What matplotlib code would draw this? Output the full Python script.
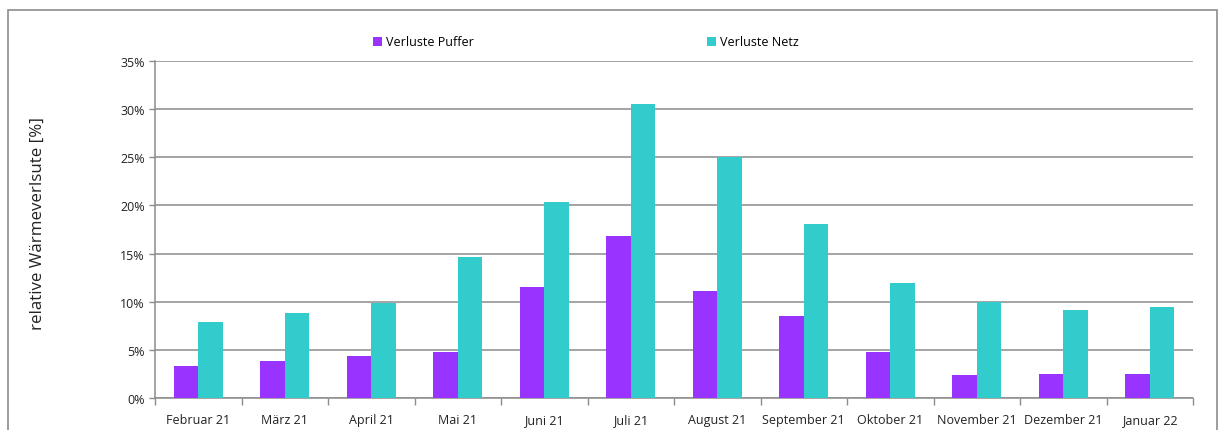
import matplotlib.pyplot as plt
from matplotlib.patches import Rectangle
from matplotlib.ticker import FuncFormatter, FixedLocator
import numpy as np

plt.rcParams['font.family'] = ['Open Sans', 'DejaVu Sans']

# Daten
monate = ['Februar 21', 'März 21', 'April 21', 'Mai 21', 'Juni 21', 'Juli 21',
          'August 21', 'September 21', 'Oktober 21', 'November 21', 'Dezember 21', 'Januar 22']
verluste_puffer = [3.3, 3.8, 4.4, 4.8, 11.5, 16.85, 11.1, 8.55, 4.75, 2.4, 2.45, 2.45]
verluste_netz = [7.9, 8.8, 9.9, 14.6, 20.4, 30.5, 25.0, 18.1, 11.95, 10.0, 9.1, 9.45]

fig = plt.figure(figsize=(12.19, 4.31), dpi=100)
ax = fig.add_axes([0.1272, 0.0742, 0.8515, 0.7819])

# Rahmen um das Diagramm
fig.patches.append(Rectangle((8 / 1219, -0.05), 1209 / 1219, 1 - 11 / 431 + 0.05,
                             transform=fig.transFigure, fill=False,
                             edgecolor='#8c8c8c', linewidth=1.2, zorder=0))

x = np.arange(len(monate))
b = 0.285
ax.bar(x - b / 2, verluste_puffer, b, color='#9933FF', label='Verluste Puffer', zorder=3)
ax.bar(x + b / 2, verluste_netz, b, color='#33CCCC', label='Verluste Netz', zorder=3)

ax.set_xlim(-0.5, len(monate) - 0.5)
ax.set_ylim(0, 35)
ax.set_yticks(np.arange(0, 36, 5))
ax.yaxis.set_major_formatter(FuncFormatter(lambda v, p: f'{v:.0f}%'))
ax.grid(axis='y', color='#8c8c8c', linewidth=1.1, zorder=0)

ax.set_xticks(x)
ax.set_xticklabels(monate)
ax.xaxis.set_minor_locator(FixedLocator(np.arange(-0.5, len(monate), 1)))
ax.tick_params(axis='x', which='major', length=0, pad=11, labelsize=9, colors='#222222')
ax.tick_params(axis='x', which='minor', length=5, width=1, color='#8c8c8c')
ax.tick_params(axis='y', length=4, width=1, color='#8c8c8c', labelsize=9, labelcolor='#222222')

for s in ['top', 'right']:
    ax.spines[s].set_visible(False)
for s in ['left', 'bottom']:
    ax.spines[s].set_color('#8c8c8c')
    ax.spines[s].set_linewidth(1.1)

fig.text(38 / 1219, 1 - 224 / 431, 'relative Wärmeverlsute [%]', rotation=90,
         ha='center', va='center', fontsize=12.2, color='#222222')

fig.legend(loc='center left', bbox_to_anchor=(373 / 1219, 1 - 43 / 431), ncol=2,
           frameon=False, fontsize=9, handlelength=0.7, handleheight=0.7,
           handletextpad=0.3, columnspacing=18.7, borderpad=0, borderaxespad=0)

fig.savefig('out.png', dpi=100)
